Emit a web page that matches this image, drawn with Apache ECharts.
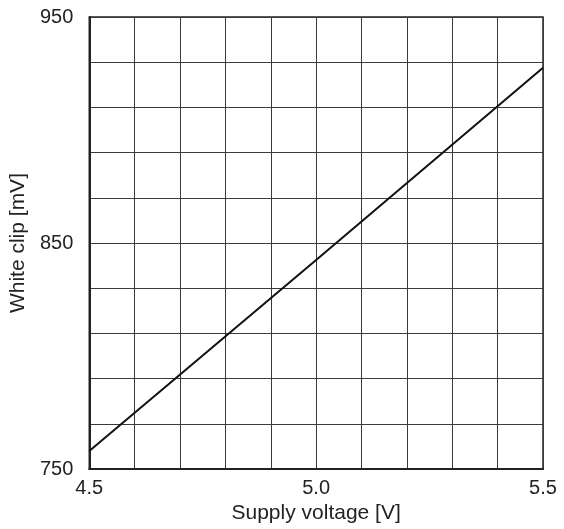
<!DOCTYPE html>
<html>
<head>
<meta charset="utf-8">
<script src="https://cdn.jsdelivr.net/npm/echarts@6/dist/echarts.min.js"></script>
<style>html,body{margin:0;padding:0;background:#fff}#c{width:564px;height:529px}</style>
</head>
<body>
<div id="c"></div>
<script>
const supplyVoltage = [4.5, 5.0, 5.5];
const whiteClip = [758, 842.5, 927.5];
const xLabel = 'Supply voltage [V]';
const yLabel = 'White clip [mV]';

const chart = echarts.init(document.getElementById('c'), null, {renderer: 'canvas'});
const font = 'Liberation Sans, Arial, sans-serif';
const gridLine = {show: true, lineStyle: {color: '#3a3a3a', width: 1, type: 'solid'}};
chart.setOption({
  animation: false,
  backgroundColor: '#fff',
  grid: {left: 89, right: 21, top: 17, bottom: 58, show: true, borderColor: '#222', borderWidth: 1.5},
  xAxis: {
    type: 'value', min: 4.5, max: 5.5, interval: 0.5,
    name: xLabel, nameLocation: 'middle', nameGap: 32,
    nameTextStyle: {fontFamily: font, fontSize: 21, color: '#222'},
    axisLine: {show: true, onZero: false, lineStyle: {color: '#222', width: 2}},
    axisTick: {show: false},
    axisLabel: {fontFamily: font, fontSize: 20, color: '#222', margin: 9, formatter: v => v.toFixed(1)},
    splitLine: gridLine,
    minorTick: {show: false, splitNumber: 5},
    minorSplitLine: gridLine
  },
  yAxis: {
    type: 'value', min: 750, max: 950, interval: 100,
    name: yLabel, nameLocation: 'middle', nameGap: 60, nameRotate: 90,
    nameTextStyle: {fontFamily: font, fontSize: 21, color: '#222'},
    axisLine: {show: true, onZero: false, lineStyle: {color: '#222', width: 2}},
    axisTick: {show: false},
    axisLabel: {fontFamily: font, fontSize: 20, color: '#222', margin: 16},
    splitLine: gridLine,
    minorTick: {show: false, splitNumber: 5},
    minorSplitLine: gridLine
  },
  series: [{
    type: 'line',
    data: supplyVoltage.map((x, i) => [x, whiteClip[i]]),
    showSymbol: false,
    lineStyle: {color: '#111', width: 2},
    silent: true
  }]
});
</script>
</body>
</html>
